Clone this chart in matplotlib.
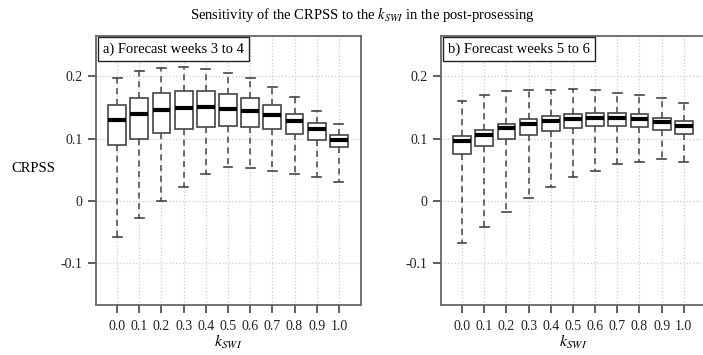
import matplotlib
matplotlib.use("Agg")
import matplotlib.pyplot as plt

plt.rcParams['font.family'] = ['Liberation Serif', 'DejaVu Serif']
plt.rcParams['mathtext.fontset'] = 'stix'

k_swi = ['0.0', '0.1', '0.2', '0.3', '0.4', '0.5', '0.6', '0.7', '0.8', '0.9', '1.0']

# a) weeks 3 to 4
a_whishi = [0.198, 0.208, 0.213, 0.215, 0.212, 0.205, 0.197, 0.183, 0.167, 0.145, 0.124]
a_q3 = [0.154, 0.166, 0.173, 0.177, 0.177, 0.172, 0.165, 0.154, 0.139, 0.125, 0.106]
a_med = [0.130, 0.140, 0.146, 0.150, 0.151, 0.148, 0.145, 0.138, 0.128, 0.116, 0.098]
a_q1 = [0.090, 0.100, 0.109, 0.116, 0.119, 0.121, 0.119, 0.116, 0.108, 0.098, 0.086]
a_whislo = [-0.058, -0.027, 0.000, 0.023, 0.043, 0.055, 0.053, 0.049, 0.044, 0.038, 0.031]

# b) weeks 5 to 6
b_whishi = [0.161, 0.170, 0.177, 0.179, 0.178, 0.180, 0.178, 0.174, 0.170, 0.165, 0.157]
b_q3 = [0.104, 0.114, 0.124, 0.131, 0.136, 0.140, 0.141, 0.141, 0.139, 0.134, 0.128]
b_med = [0.097, 0.106, 0.117, 0.123, 0.128, 0.132, 0.134, 0.133, 0.131, 0.127, 0.120]
b_q1 = [0.076, 0.088, 0.100, 0.106, 0.112, 0.117, 0.121, 0.120, 0.119, 0.114, 0.107]
b_whislo = [-0.067, -0.042, -0.018, 0.005, 0.022, 0.038, 0.048, 0.059, 0.063, 0.067, 0.063]

panels = [
    ("a) Forecast weeks 3 to 4", a_whislo, a_q1, a_med, a_q3, a_whishi),
    ("b) Forecast weeks 5 to 6", b_whislo, b_q1, b_med, b_q3, b_whishi),
]

fig = plt.figure(figsize=(7.03, 3.55), dpi=100)
ax_a = fig.add_axes([0.1366, 0.1408, 0.377, 0.7578])
ax_b = fig.add_axes([0.6273, 0.1408, 0.377, 0.7578])

frame_col = '#666666'
for ax, (label, lo, q1, med, q3, hi) in zip([ax_a, ax_b], panels):
    stats = [dict(whislo=lo[i], q1=q1[i], med=med[i], q3=q3[i], whishi=hi[i], fliers=[])
             for i in range(len(k_swi))]
    ax.bxp(stats, positions=range(len(k_swi)), widths=0.8, capwidths=0.4,
           showfliers=False, patch_artist=True, manage_ticks=False,
           boxprops=dict(facecolor='white', edgecolor='#444444', linewidth=1.2),
           whiskerprops=dict(color='#444444', linewidth=1.1, linestyle=(0, (4, 3))),
           capprops=dict(color='#444444', linewidth=1.2),
           medianprops=dict(color='black', linewidth=3, solid_capstyle='butt'),
           zorder=3)
    ax.set_xlim(-0.95, 11.0)
    ax.set_ylim(-0.167, 0.265)
    ax.set_xticks(range(len(k_swi)))
    ax.set_xticklabels(k_swi)
    ax.set_yticks([0.2, 0.1, 0.0, -0.1])
    ax.set_yticklabels(['0.2', '0.1', '0', '-0.1'])
    ax.grid(True, color='#cccccc', linestyle=':', linewidth=0.9, zorder=0)
    ax.set_axisbelow(True)
    for s in ax.spines.values():
        s.set_color(frame_col)
        s.set_linewidth(1.3)
    ax.tick_params(axis='both', colors='#333333', labelcolor='#222222', labelsize=10,
                   length=6, width=1.1)
    ax.tick_params(axis='x', pad=5)
    ax.set_xlabel(r'$k_{SWI}$', fontsize=11.5, labelpad=0)
    ax.text(0.027, 0.976, label, transform=ax.transAxes, ha='left', va='top', fontsize=10.5,
            bbox=dict(boxstyle='square,pad=0.35', facecolor='white', edgecolor='#222222',
                      linewidth=1.0), zorder=5)

fig.text(0.047, 1 - 168 / 355, 'CRPSS', ha='center', va='center', fontsize=10.5)
fig.text(0.515, 1 - 14 / 355, r'Sensitivity of the CRPSS to the $k_{SWI}$ in the post-prosessing',
         ha='center', va='center', fontsize=10.5)

fig.savefig('out.png', dpi=100)
